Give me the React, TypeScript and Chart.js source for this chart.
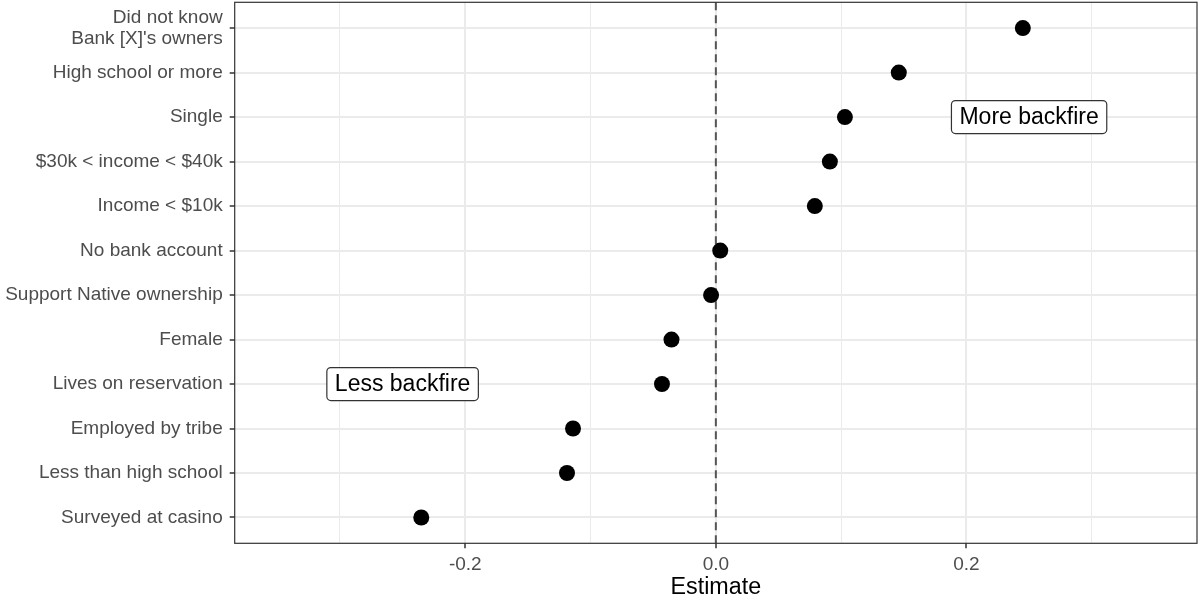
import React, { useEffect, useRef } from "react";
import { Chart, registerables } from "chart.js";

Chart.register(...registerables);

const categories: (string | string[])[] = [
  ["Did not know", "Bank [X]'s owners"],
  "High school or more",
  "Single",
  "$30k < income < $40k",
  "Income < $10k",
  "No bank account",
  "Support Native ownership",
  "Female",
  "Lives on reservation",
  "Employed by tribe",
  "Less than high school",
  "Surveyed at casino",
];

const estimates: number[] = [
  0.245, 0.146, 0.103, 0.091, 0.079, 0.0035, -0.0038, -0.0354, -0.043, -0.114, -0.1188, -0.2351,
];

const xMajorTicks: number[] = [-0.2, 0, 0.2];
const xMinorTicks: number[] = [-0.3, -0.1, 0.1, 0.3];

const annotationTexts: string[] = ["More backfire", "Less backfire"];
const annotationX: number[] = [0.25, -0.25];
const annotationRow: number[] = [2, 8];

const FONT = "'Liberation Sans', Arial, Helvetica, sans-serif";

const isMajor = (v: number) => xMajorTicks.some((m) => Math.abs(m - v) < 1e-9);

const zeroPad = (scale: any) => {
  scale.paddingTop = 0;
  scale.paddingBottom = 0;
  scale.paddingLeft = 0;
  scale.paddingRight = 0;
};

export default function App() {
  const ref = useRef<HTMLCanvasElement | null>(null);

  useEffect(() => {
    document.body.style.margin = "0";
    const canvas = ref.current;
    if (!canvas) return;

    const overlay = {
      id: "overlay",
      beforeDatasetsDraw(chart: any) {
        const { ctx, chartArea, scales } = chart;
        const x0 = scales.x.getPixelForValue(0);
        ctx.save();
        ctx.strokeStyle = "#555555";
        ctx.lineWidth = 2;
        ctx.setLineDash([8, 5]);
        ctx.beginPath();
        ctx.moveTo(x0, chartArea.top);
        ctx.lineTo(x0, chartArea.bottom);
        ctx.stroke();
        ctx.restore();
      },
      afterDatasetsDraw(chart: any) {
        const { ctx, chartArea, scales } = chart;
        ctx.save();
        ctx.font = `23px ${FONT}`;
        ctx.textAlign = "center";
        ctx.textBaseline = "middle";
        annotationTexts.forEach((t, i) => {
          const cx = scales.x.getPixelForValue(annotationX[i]);
          const cy = scales.y.getPixelForValue(annotationRow[i]);
          const w = ctx.measureText(t).width + 16;
          const h = 33;
          const x = cx - w / 2;
          const y = cy - h / 2;
          const r = 4;
          ctx.beginPath();
          ctx.moveTo(x + r, y);
          ctx.lineTo(x + w - r, y);
          ctx.arcTo(x + w, y, x + w, y + r, r);
          ctx.lineTo(x + w, y + h - r);
          ctx.arcTo(x + w, y + h, x + w - r, y + h, r);
          ctx.lineTo(x + r, y + h);
          ctx.arcTo(x, y + h, x, y + h - r, r);
          ctx.lineTo(x, y + r);
          ctx.arcTo(x, y, x + r, y, r);
          ctx.closePath();
          ctx.fillStyle = "#ffffff";
          ctx.fill();
          ctx.strokeStyle = "#333333";
          ctx.lineWidth = 1.2;
          ctx.stroke();
          ctx.fillStyle = "#000000";
          ctx.fillText(t, cx, cy + 1);
        });
        ctx.strokeStyle = "#333333";
        ctx.lineWidth = 1.2;
        ctx.strokeRect(
          chartArea.left,
          chartArea.top,
          chartArea.right - chartArea.left,
          chartArea.bottom - chartArea.top
        );
        ctx.restore();
      },
    };

    const chart = new Chart(canvas, {
      type: "scatter",
      data: {
        datasets: [
          {
            data: estimates.map((v, i) => ({ x: v, y: i })),
            backgroundColor: "#000000",
            borderWidth: 0,
            pointRadius: 8,
            pointHoverRadius: 8,
          },
        ],
      },
      options: {
        animation: false,
        responsive: true,
        maintainAspectRatio: false,
        layout: { autoPadding: false, padding: { top: 2.3, right: 1, left: 0, bottom: 0 } },
        plugins: {
          legend: { display: false },
          tooltip: { enabled: false },
        },
        scales: {
          x: {
            type: "linear",
            min: -0.384,
            max: 0.384,
            afterBuildTicks(scale: any) {
              scale.ticks = [...xMinorTicks, ...xMajorTicks]
                .sort((a, b) => a - b)
                .map((v) => ({ value: v }));
            },
            afterFit(scale: any) {
              scale.height = 58.7;
              zeroPad(scale);
            },
            border: { display: false },
            grid: {
              color: "#EBEBEB",
              lineWidth: (c: any) => (c.tick && isMajor(c.tick.value) ? 2 : 1),
              tickColor: (c: any) =>
                c.tick && isMajor(c.tick.value) ? "#333333" : "rgba(0,0,0,0)",
              tickLength: 5,
              tickWidth: 1.5,
            },
            ticks: {
              color: "#4D4D4D",
              font: { family: FONT, size: 19 },
              padding: 5,
              maxRotation: 0,
              autoSkip: false,
              callback: (v: any) => (isMajor(Number(v)) ? Number(v).toFixed(1) : ""),
            },
            title: {
              display: true,
              text: "Estimate",
              color: "#000000",
              font: { family: FONT, size: 23.3 },
              padding: { top: 0, bottom: 0 },
            },
          },
          y: {
            type: "linear",
            min: -0.58,
            max: 11.58,
            reverse: true,
            afterBuildTicks(scale: any) {
              scale.ticks = categories.map((_, i) => ({ value: i }));
            },
            afterFit(scale: any) {
              scale.width = 234.7;
              zeroPad(scale);
            },
            border: { display: false },
            grid: {
              color: "#EBEBEB",
              lineWidth: 2,
              tickColor: "#333333",
              tickLength: 5,
              tickWidth: 1.5,
            },
            ticks: {
              color: "#4D4D4D",
              font: { family: FONT, size: 19, lineHeight: 1.11 },
              padding: 7,
              autoSkip: false,
              callback: (v: any) => categories[Math.round(Number(v))] as any,
            },
          },
        },
      },
      plugins: [overlay],
    } as any);

    return () => chart.destroy();
  }, []);

  return (
    <div style={{ width: 1198, height: 602, position: "relative" }}>
      <canvas ref={ref} />
    </div>
  );
}
